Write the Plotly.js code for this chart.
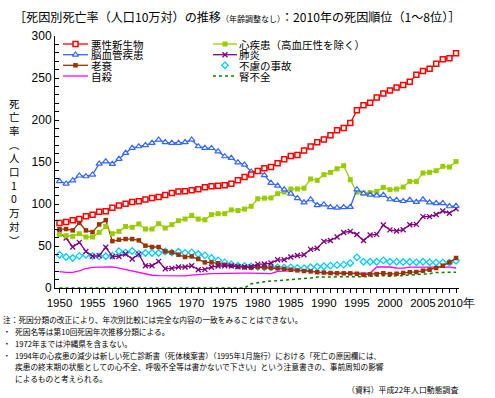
<!DOCTYPE html>
<html><head><meta charset="utf-8">
<script src="https://cdn.plot.ly/plotly-3.0.1.min.js"></script>
<style>html,body{margin:0;padding:0;background:#fff}#chart{width:495px;height:398px}</style>
</head><body><div id="chart"></div>
<script>
const years = [1950,1951,1952,1953,1954,1955,1956,1957,1958,1959,1960,1961,1962,1963,1964,1965,1966,1967,1968,1969,1970,1971,1972,1973,1974,1975,1976,1977,1978,1979,1980,1981,1982,1983,1984,1985,1986,1987,1988,1989,1990,1991,1992,1993,1994,1995,1996,1997,1998,1999,2000,2001,2002,2003,2004,2005,2006,2007,2008,2009,2010];

const cancer = [77.4,78.5,80.8,82.2,85.3,87.1,90.9,91.3,95.5,98.2,100.4,102.3,103.2,105.5,107.0,108.4,110.8,113.0,115.0,115.2,116.3,117.7,119.8,121.0,121.8,122.4,124.2,128.2,132.1,135.2,139.3,142.5,144.0,148.5,153.2,157.0,158.3,163.8,168.5,173.5,176.8,181.7,187.7,190.4,196.4,211.5,217.5,220.4,226.7,231.6,235.2,238.8,241.7,245.4,253.9,258.3,261.0,266.9,272.3,273.5,279.5];
const heart = [63.8,62.3,61.5,64.6,60.7,60.7,66.2,73.3,64.6,67.4,73.3,72.2,76.2,70.2,70.2,76.6,71.4,75.4,80.1,82.1,86.4,82.1,81.3,87.3,88.5,88.5,93.0,92.2,94.0,97.2,106.3,106.9,107.2,112.3,114.3,117.8,117.9,118.8,129.8,128.2,134.9,137.6,142.0,145.6,128.9,114.0,113.0,113.6,115.0,119.8,117.0,117.8,120.2,126.9,126.9,136.9,137.7,139.6,144.8,144.0,150.5];
const stroke = [127.0,124.2,128.1,133.8,132.9,134.9,148.0,150.7,147.6,153.5,160.7,166.7,168.6,170.0,172.6,176.5,173.4,172.6,172.6,173.4,176.5,168.6,166.7,166.5,162.6,156.7,154.7,149.5,146.8,138.5,139.2,134.3,125.0,121.7,117.2,112.2,106.9,101.7,105.5,98.5,99.4,96.2,95.6,96.2,96.4,117.3,112.6,111.0,110.0,110.8,105.5,104.7,103.4,104.7,102.3,105.3,101.7,100.8,100.9,97.2,97.7];
const pneumonia = [65.8,59.5,48.8,54.3,43.6,37.7,38.5,48.5,37.6,37.6,40.5,34.5,40.3,26.5,26.5,31.7,23.0,23.4,25.0,25.0,26.5,21.8,22.2,24.8,26.2,26.4,26.2,25.2,25.0,25.4,28.4,28.6,29.7,33.6,33.6,37.0,38.6,39.5,46.0,47.4,55.5,56.6,60.7,66.1,67.4,63.6,56.5,63.1,63.8,74.9,69.2,67.8,69.4,75.3,75.7,85.0,85.0,87.4,91.6,89.0,94.3];
const senility = [70.2,70.2,68.6,77.6,68.6,66.6,75.7,80.8,55.8,57.5,58.3,58.3,56.7,50.4,48.8,48.8,43.6,42.4,39.6,36.9,37.6,34.5,30.5,30.5,29.5,27.7,26.5,25.5,24.8,24.3,25.0,24.5,24.0,23.6,22.8,21.8,21.0,20.2,19.8,18.8,18.4,17.8,17.6,17.5,17.4,17.0,15.8,16.3,16.6,17.6,16.6,17.0,17.8,18.8,19.0,20.6,21.8,23.8,26.5,30.5,35.7];
const accident = [39.6,36.9,35.7,38.2,39.6,38.0,37.6,37.8,38.5,43.8,42.2,44.0,40.6,41.7,41.7,41.7,43.4,42.2,43.2,41.8,42.4,40.5,38.8,35.8,32.9,30.5,28.2,26.5,26.2,25.6,25.1,24.6,24.6,24.6,24.3,24.6,23.9,23.5,24.8,25.3,25.9,26.6,27.2,27.8,29.7,36.5,31.3,31.3,31.3,32.9,31.3,31.3,30.9,30.9,30.6,31.3,30.6,30.3,30.3,30.3,32.4];
const suicide = [19.6,18.6,18.6,20.3,23.2,24.6,24.8,24.8,25.2,23.6,21.8,20.2,18.2,16.2,15.2,14.7,14.6,14.5,14.5,14.5,15.3,15.6,16.6,17.2,17.5,17.8,17.6,17.8,17.8,17.8,17.7,17.4,17.0,19.8,20.4,20.6,20.8,20.6,20.4,18.6,17.8,17.6,17.6,17.6,17.6,17.6,17.6,17.8,25.0,25.0,25.0,23.8,23.6,24.8,24.8,24.8,24.8,24.8,24.8,24.8,23.8];
const renal = [0,0,0,0,0,0,0,0,0,0,0,0,0,0,0,0,0,0,0,0,0,0,0,0,0,0,0,0,0,5.0,6.5,7.5,8.2,8.7,9.1,9.5,10.0,10.7,11.8,13.1,13.1,13.3,13.6,13.9,13.9,13.1,13.5,14.0,14.6,14.6,13.9,14.6,14.8,15.5,16.2,16.5,17.0,18.6,18.6,18.6,18.8];

const xTickVals = [1950,1955,1960,1965,1970,1975,1980,1985,1990,1995,2000,2005,2010];
const xTickText = ['1950','1955','1960','1965','1970','1975','1980','1985','1990','1995','2000','2005','2010年'];
const yTickVals = [0,50,100,150,200,250,300];

const JP = '"Noto Sans CJK JP", sans-serif';
const NUM = '"Liberation Sans", Arial, sans-serif';

const series = [
  {name:'腎不全', y:renal, color:'#008000', mode:'lines', dash:'dot', width:1.5, col:1, row:3},
  {name:'自殺', y:suicide, color:'#ff00ff', mode:'lines', width:1.3, col:0, row:3},
  {name:'不慮の事故', y:accident, color:'#00ccff', mode:'markers', symbol:'diamond-open', size:5, mlw:1.3, col:1, row:2},
  {name:'老衰', y:senility, color:'#993300', mode:'lines+markers', symbol:'square', size:4.5, width:1.3, col:0, row:2},
  {name:'肺炎', y:pneumonia, color:'#800080', mode:'lines+markers', symbol:'x-thin', size:5, mlw:1.3, width:1.3, col:1, row:1},
  {name:'心疾患（高血圧性を除く）', y:heart, color:'#99cc00', mode:'lines+markers', symbol:'square', size:5, width:1.3, col:1, row:0},
  {name:'脳血管疾患', y:stroke, color:'#3366ff', mode:'lines+markers', symbol:'triangle-up', open:true, size:5.5, mlw:1.2, width:1.3, col:0, row:1},
  {name:'悪性新生物', y:cancer, color:'#ff0000', mode:'lines+markers', symbol:'square', open:true, size:5, mlw:1.5, width:1.3, col:0, row:0}
];

function markerOf(s){
  if (s.open) return {symbol:s.symbol, size:s.size, color:'#ffffff', line:{color:s.color, width:s.mlw}};
  if (s.symbol.indexOf('open')>=0 || s.symbol==='x-thin') return {symbol:s.symbol, size:s.size, color:s.color, line:{color:s.color, width:s.mlw||1}};
  return {symbol:s.symbol, size:s.size, color:s.color, line:{width:0}};
}

const traces = [];
series.forEach(s => {
  const t = {
    x: years, y: s.y, type:'scatter', mode:s.mode, name:s.name, showlegend:false,
    line:{color:s.color, width:s.width||1.5, dash:s.dash||'solid'},
    hoverinfo:'skip', cliponaxis:false
  };
  if (s.symbol) t.marker = markerOf(s);
  traces.push(t);
});

// manual legend drawn in pixel space through overlay axes x2/y2
const legColX = [[63,88,91],[213,237,239]];
const legRowY = [44,54.7,65.3,76];
series.forEach(s => {
  const c = legColX[s.col], yy = legRowY[s.row];
  const mid = (c[0]+c[1])/2;
  if (s.mode !== 'markers') {
    traces.push({x:[c[0],c[1]], y:[yy,yy], xaxis:'x2', yaxis:'y2', type:'scatter', mode:'lines', showlegend:false, hoverinfo:'skip',
      line:{color:s.color, width:s.width||1.5, dash:s.dash||'solid'}});
  }
  if (s.symbol) {
    traces.push({x:[mid], y:[yy], xaxis:'x2', yaxis:'y2', type:'scatter', mode:'markers', showlegend:false, hoverinfo:'skip',
      marker: markerOf(s)});
  }
});

const L=55, R=459, T=36, B=288;
const px = v => (v-L)/(R-L);
const py = v => (B-v)/(B-T);
const annotations = [];

// legend labels, one per row
series.forEach(s => {
  const c = legColX[s.col], yy = legRowY[s.row];
  annotations.push({xref:'paper', yref:'paper', x:px(c[2]), y:py(yy), xanchor:'left', yanchor:'middle', showarrow:false,
    borderpad:0, borderwidth:0, text:s.name, font:{family:JP, size:10.5, color:'#000'}});
});

// vertical y-axis title, one glyph per row
const yTitleChars = ['死','亡','率','︵','人','口','1','0','万','対','︶'];
const yTitleTop = 103, yTitleStep = 13.7;
yTitleChars.forEach((ch, i) => {
  annotations.push({xref:'paper', yref:'paper', x:px(14), y:py(yTitleTop + i*yTitleStep), xanchor:'center', yanchor:'middle',
    showarrow:false, borderpad:0, borderwidth:0, text:ch, font:{family:JP, size:10.5, color:'#000'}});
});

const notes = [
  {x:3, y:319, t:'注：死因分類の改正により、年次別比較には完全な内容の一致をみることはできない。'},
  {x:3, y:331, t:'・'},
  {x:15, y:331, t:'死因名等は第10回死因年次推移分類による。'},
  {x:3, y:343, t:'・'},
  {x:15, y:343, t:'1972年までは沖縄県を含まない。'},
  {x:3, y:355, t:'・'},
  {x:15, y:355, t:'1994年の心疾患の減少は新しい死亡診断書（死体検案書）（1995年1月施行）における「死亡の原因欄には、'},
  {x:15, y:366, t:'疾患の終末期の状態としての心不全、呼吸不全等は書かないで下さい」という注意書きの、事前周知の影響'},
  {x:15, y:378, t:'によるものと考えられる。'}
];
notes.forEach(n => annotations.push({xref:'paper', yref:'paper', x:px(n.x), y:py(n.y), xanchor:'left', yanchor:'middle', showarrow:false,
  borderpad:0, borderwidth:0, text:n.t, font:{family:JP, size:(n.y===355 ? 7.55 : 7.7), color:'#000'}}));
annotations.push({xref:'paper', yref:'paper', x:px(458), y:py(389), xanchor:'right', yanchor:'middle', showarrow:false, borderpad:0, borderwidth:0,
  text:'（資料）平成22年人口動態調査', font:{family:JP, size:7.9, color:'#000'}});

const layout = {
  width:495, height:398,
  margin:{l:L, r:495-R, t:T, b:398-B, pad:0},
  paper_bgcolor:'#fff', plot_bgcolor:'#fff',
  showlegend:false,
  title:{text:'［死因別死亡率（人口10万対）の推移<span style="font-size:8px">（年齢調整なし）</span>：2010年の死因順位（1～8位）］',
    x:14/495, xanchor:'left', xref:'container', y:1-18/398, yanchor:'middle', yref:'container',
    font:{family:JP, size:12.1, color:'#000'}},
  xaxis:{range:[1949.32, 2010.45], showgrid:false, zeroline:false, showline:true, linecolor:'#000', linewidth:1,
    tickmode:'array', tickvals:xTickVals, ticktext:xTickText, tickangle:0, ticks:'outside', ticklen:4, tickcolor:'#000', tickwidth:1,
    minor:{dtick:1, tick0:1950, ticks:'outside', ticklen:4, tickcolor:'#000', tickwidth:1, showgrid:false},
    tickfont:{family:NUM, size:11.5, color:'#000'}, fixedrange:true},
  yaxis:{range:[0,300], showgrid:false, zeroline:false, showline:true, linecolor:'#000', linewidth:1,
    tickmode:'array', tickvals:yTickVals, ticks:'inside', ticklen:4, tickcolor:'#000', tickwidth:1,
    minor:{dtick:10, ticks:'inside', ticklen:4, tickcolor:'#000', tickwidth:1, showgrid:false},
    tickfont:{family:NUM, size:12, color:'#000'}, fixedrange:true},
  xaxis2:{domain:[0,1], range:[L,R], visible:false, anchor:'y2', overlaying:'x', fixedrange:true},
  yaxis2:{domain:[0,1], range:[B,T], visible:false, anchor:'x2', overlaying:'y', fixedrange:true},
  annotations: annotations
};

Plotly.newPlot('chart', traces, layout, {staticPlot:true, displayModeBar:false});
</script>
</body></html>
